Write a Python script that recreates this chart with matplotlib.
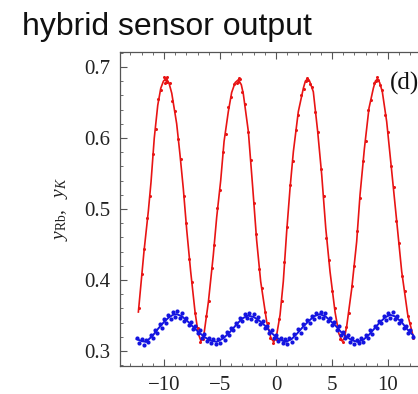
import matplotlib
matplotlib.use("Agg")
import matplotlib.pyplot as plt
from matplotlib.ticker import MultipleLocator

plt.rcParams["mathtext.fontset"] = "custom"
plt.rcParams["mathtext.it"] = "Liberation Serif:italic"
plt.rcParams["mathtext.rm"] = "Liberation Serif"
plt.rcParams["mathtext.bf"] = "Liberation Serif:bold"

# fitted curves
rb_fit_x = [-12.29, -11.79, -11.40, -11.16, -10.87, -10.56, -10.29, -10.05, -9.80, -9.55,
            -9.31, -8.87, -8.57, -8.28, -7.97, -7.62, -7.23, -6.95, -6.70, -6.45,
            -6.04, -5.60, -5.30, -4.94, -4.64, -4.26, -3.96, -3.65, -3.36, -3.10,
            -2.92, -2.47, -2.08, -1.73, -1.37, -0.83, -0.45, -0.20, 0.05, 0.36,
            0.65, 0.95, 1.25, 1.55, 1.99, 2.44, 2.62, 2.80, 3.00, 3.33,
            3.72, 4.08, 4.44, 4.82, 5.27, 5.60, 5.90, 6.10, 6.31, 6.76,
            7.20, 7.50, 7.89, 8.30, 8.69, 8.87, 9.05, 9.25, 9.49, 9.88,
            10.33, 10.78, 11.22, 11.76, 12.26]
rb_fit_y = [0.355, 0.440, 0.497, 0.538, 0.600, 0.646, 0.670, 0.680, 0.684, 0.677,
            0.663, 0.620, 0.576, 0.529, 0.470, 0.412, 0.355, 0.325, 0.314, 0.322,
            0.369, 0.435, 0.488, 0.540, 0.595, 0.637, 0.664, 0.678, 0.682, 0.675,
            0.662, 0.609, 0.530, 0.456, 0.398, 0.341, 0.318, 0.313, 0.322, 0.351,
            0.398, 0.468, 0.529, 0.581, 0.637, 0.670, 0.680, 0.683, 0.680, 0.665,
            0.609, 0.548, 0.473, 0.412, 0.355, 0.325, 0.314, 0.318, 0.335, 0.388,
            0.454, 0.520, 0.585, 0.642, 0.670, 0.680, 0.683, 0.678, 0.665, 0.623,
            0.553, 0.482, 0.412, 0.351, 0.320]

k_fit_x = [-12.44, -12.0, -11.6, -11.0, -10.5, -10.0, -9.6, -9.2, -8.87, -8.4,
           -7.83, -7.4, -6.94, -6.4, -5.9, -5.3, -4.7, -4.1, -3.5, -3.0,
           -2.5, -2.0, -1.5, -1.0, -0.5, 0.06, 0.5, 0.9, 1.4, 1.9,
           2.4, 2.9, 3.4, 3.9, 4.4, 4.9, 5.3, 5.8, 6.3, 6.8,
           7.3, 7.8, 8.3, 8.8, 9.3, 9.8, 10.2, 10.6, 11.2, 11.7, 12.26]
k_fit_y = [0.317, 0.314, 0.313, 0.322, 0.332, 0.341, 0.347, 0.351, 0.352, 0.349,
           0.341, 0.334, 0.327, 0.320, 0.315, 0.313, 0.318, 0.327, 0.338, 0.346,
           0.350, 0.348, 0.343, 0.336, 0.327, 0.319, 0.315, 0.313, 0.317, 0.325,
           0.334, 0.342, 0.349, 0.352, 0.349, 0.342, 0.336, 0.327, 0.320, 0.315,
           0.313, 0.316, 0.323, 0.332, 0.341, 0.348, 0.351, 0.349, 0.341, 0.331, 0.322]

# measured points
rb_x = [-12.25, -12.0, -11.75, -11.5, -11.25, -11.0, -10.75, -10.5, -10.25, -10.0,
        -9.9, -9.85, -9.75, -9.7, -9.5, -9.25, -9.0, -8.75, -8.5, -8.25,
        -8.0, -7.75, -7.5, -7.25, -7.0, -6.75, -6.5, -6.25, -6.0, -5.75,
        -5.5, -5.25, -5.0, -4.75, -4.5, -4.25, -4.0, -3.75, -3.5, -3.4,
        -3.3, -3.25, -3.0, -2.75, -2.5, -2.25, -2.0, -1.75, -1.5, -1.25,
        -1.0, -0.75, -0.5, -0.25, 0.0, 0.25, 0.5, 0.75, 1.0, 1.25,
        1.5, 1.75, 2.0, 2.25, 2.5, 2.7, 2.75, 2.85, 3.0, 3.25,
        3.5, 3.75, 4.0, 4.25, 4.5, 4.75, 5.0, 5.25, 5.5, 5.75,
        6.0, 6.25, 6.5, 6.75, 7.0, 7.25, 7.5, 7.75, 8.0, 8.25,
        8.5, 8.75, 8.95, 9.0, 9.1, 9.25, 9.5, 9.75, 10.0, 10.25,
        10.5, 10.75, 11.0, 11.25, 11.5, 11.75, 12.0, 12.25]
rb_y = [0.360, 0.409, 0.443, 0.487, 0.519, 0.578, 0.613, 0.655, 0.667, 0.686,
        0.678, 0.681, 0.679, 0.686, 0.678, 0.652, 0.638, 0.598, 0.571, 0.519,
        0.480, 0.429, 0.397, 0.354, 0.333, 0.313, 0.317, 0.349, 0.371, 0.417,
        0.449, 0.501, 0.527, 0.580, 0.606, 0.643, 0.657, 0.676, 0.677, 0.679,
        0.684, 0.683, 0.664, 0.648, 0.608, 0.569, 0.509, 0.465, 0.415, 0.389,
        0.355, 0.339, 0.318, 0.311, 0.317, 0.345, 0.370, 0.426, 0.474, 0.534,
        0.568, 0.611, 0.633, 0.661, 0.669, 0.680, 0.685, 0.681, 0.676, 0.672,
        0.637, 0.609, 0.557, 0.518, 0.459, 0.428, 0.385, 0.361, 0.331, 0.317,
        0.313, 0.334, 0.353, 0.391, 0.420, 0.469, 0.516, 0.567, 0.596, 0.640,
        0.653, 0.677, 0.680, 0.686, 0.682, 0.675, 0.668, 0.633, 0.608, 0.561,
        0.531, 0.483, 0.452, 0.405, 0.384, 0.349, 0.339, 0.319]

k_x = [-12.4, -12.2, -12.0, -11.8, -11.6, -11.4, -11.2, -11.0, -10.8, -10.6,
       -10.4, -10.2, -10.0, -9.8, -9.6, -9.4, -9.2, -9.0, -8.8, -8.6,
       -8.4, -8.2, -8.0, -7.8, -7.6, -7.4, -7.2, -7.0, -6.8, -6.6,
       -6.4, -6.2, -6.0, -5.8, -5.6, -5.4, -5.2, -5.0, -4.8, -4.6,
       -4.4, -4.2, -4.0, -3.8, -3.6, -3.4, -3.2, -3.0, -2.8, -2.6,
       -2.4, -2.2, -2.0, -1.8, -1.6, -1.4, -1.2, -1.0, -0.8, -0.6,
       -0.4, -0.2, 0.0, 0.2, 0.4, 0.6, 0.8, 1.0, 1.2, 1.4,
       1.6, 1.8, 2.0, 2.2, 2.4, 2.6, 2.8, 3.0, 3.2, 3.4,
       3.6, 3.8, 4.0, 4.2, 4.4, 4.6, 4.8, 5.0, 5.2, 5.4,
       5.6, 5.8, 6.0, 6.2, 6.4, 6.6, 6.8, 7.0, 7.2, 7.4,
       7.6, 7.8, 8.0, 8.2, 8.4, 8.6, 8.8, 9.0, 9.2, 9.4,
       9.6, 9.8, 10.0, 10.2, 10.4, 10.6, 10.8, 11.0, 11.2, 11.4,
       11.6, 11.8, 12.0, 12.2]
k_y = [0.319, 0.312, 0.317, 0.309, 0.316, 0.313, 0.323, 0.318, 0.330, 0.326,
       0.338, 0.333, 0.345, 0.340, 0.351, 0.345, 0.355, 0.348, 0.356, 0.347,
       0.353, 0.343, 0.347, 0.337, 0.341, 0.331, 0.335, 0.325, 0.329, 0.319,
       0.324, 0.314, 0.319, 0.311, 0.317, 0.310, 0.317, 0.312, 0.321, 0.316,
       0.327, 0.322, 0.333, 0.329, 0.340, 0.336, 0.347, 0.342, 0.352, 0.346,
       0.354, 0.345, 0.352, 0.343, 0.348, 0.338, 0.343, 0.332, 0.336, 0.325,
       0.329, 0.319, 0.323, 0.314, 0.319, 0.311, 0.317, 0.310, 0.318, 0.313,
       0.324, 0.319, 0.331, 0.326, 0.338, 0.333, 0.344, 0.339, 0.350, 0.345,
       0.354, 0.348, 0.355, 0.347, 0.353, 0.343, 0.347, 0.337, 0.341, 0.330,
       0.335, 0.323, 0.327, 0.318, 0.323, 0.313, 0.318, 0.310, 0.316, 0.311,
       0.318, 0.313, 0.322, 0.318, 0.329, 0.324, 0.336, 0.332, 0.343, 0.339,
       0.349, 0.344, 0.354, 0.347, 0.355, 0.345, 0.350, 0.340, 0.344, 0.333,
       0.336, 0.326, 0.329, 0.320]

x_ticks = [-10, -5, 0, 5, 10]
y_ticks = [0.3, 0.4, 0.5, 0.6, 0.7]

red = "#e81414"
blue = "#1414e0"

fig = plt.figure(figsize=(4.18, 3.94), dpi=100)
ax = fig.add_axes([120 / 418, 28 / 394, 320 / 418, 314 / 394])

ax.plot(rb_fit_x, rb_fit_y, color=red, lw=1.2)
ax.plot(rb_x, rb_y, "o", color=red, ms=2.2, mew=0)
ax.plot(k_fit_x, k_fit_y, color=blue, lw=1.4)
ax.plot(k_x, k_y, "o", color=blue, ms=3.0, mew=0)

ax.set_xlim(-13.93, 14.64)
ax.set_ylim(0.279, 0.721)
ax.set_xticks(x_ticks)
ax.set_xticklabels([str(v).replace("-", "\u2212") for v in x_ticks])
ax.set_yticks(y_ticks)
ax.set_yticklabels([f"{v:.1f}" for v in y_ticks])
ax.xaxis.set_minor_locator(MultipleLocator(1))
ax.yaxis.set_minor_locator(MultipleLocator(0.02))
ax.tick_params(which="both", direction="in", top=True, right=True, colors="#555555")
ax.tick_params(which="major", length=5, width=0.8, labelsize=15, labelcolor="#222222", pad=7)
ax.tick_params(which="minor", length=2.5, width=0.6)
for lab in ax.get_xticklabels() + ax.get_yticklabels():
    lab.set_fontfamily("Liberation Serif")
for sp in ax.spines.values():
    sp.set_color("#555555")
    sp.set_linewidth(0.9)

ax.set_ylabel(r"$y_{\mathrm{Rb}},\ \ y_K$", fontsize=14, color="#222222", labelpad=10)

# panel tag
ax.text(10.2, 0.668, "(d)", fontsize=18, family="Liberation Serif", color="#111111")

fig.text(22 / 418, 1 - 35 / 394, "hybrid sensor output", fontsize=23,
         family="Liberation Sans", va="baseline", color="#111111")

fig.savefig("out.png", dpi=100, facecolor="white")
